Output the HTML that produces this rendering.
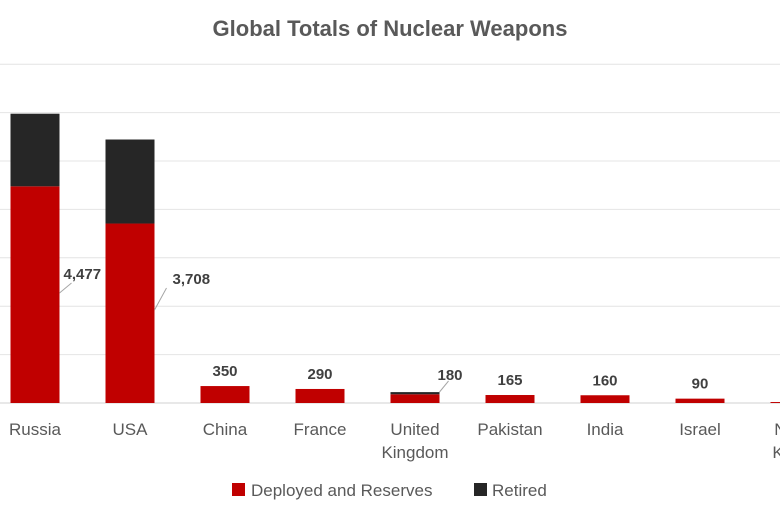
<!DOCTYPE html>
<html><head><meta charset="utf-8"><style>
body{margin:0;background:#fff;width:780px;height:516px;overflow:hidden;font-family:"Liberation Sans",sans-serif}
</style></head><body>
<svg id="chart" width="780" height="516" xmlns="http://www.w3.org/2000/svg">
<text x="390" y="36" text-anchor="middle" font-size="22" font-weight="bold" fill="#595959">Global Totals of Nuclear Weapons</text>
<g id="grid"></g><g id="bars"></g><g id="labels"></g>
<g>
<rect x="232" y="483" width="13" height="13" fill="#c00000"/>
<text x="251" y="496" font-size="17" fill="#595959">Deployed and Reserves</text>
<rect x="474" y="483" width="13" height="13" fill="#262626"/>
<text x="492" y="496" font-size="17" fill="#595959">Retired</text>
</g>
</svg>
<script>
const categories=["Russia","USA","China","France","United Kingdom","Pakistan","India","Israel","North Korea"];
const deployed=[4477,3708,350,290,180,165,160,90,20];
const retired=[1500,1736,0,0,45,0,0,0,0];
const valueLabels=["4,477","3,708","350","290","180","165","160","90",""];
const yTicks=[0,1000,2000,3000,4000,5000,6000,7000];
const NS="http://www.w3.org/2000/svg";
const base=403,pxPer=48.4/1000;
const y=v=>base-v*pxPer;
const xc=i=>35+i*95;
const bw=49;
function mk(t,a,p){const e=document.createElementNS(NS,t);for(const k in a)e.setAttribute(k,a[k]);p.appendChild(e);return e;}
const g=document.getElementById('grid'),b=document.getElementById('bars'),l=document.getElementById('labels');
yTicks.forEach(t=>{const e=mk('line',{x1:0,x2:780,y1:y(t),y2:y(t),stroke:t===0?'#d0d0d0':'#e4e4e4','stroke-width':1},g);

});
categories.forEach((c,i)=>{
 const r=mk('rect',{x:xc(i)-bw/2,y:y(deployed[i]),width:bw,height:deployed[i]*pxPer,fill:'#c00000'},b);
 
 
 if(retired[i]>0){const k=mk('rect',{x:xc(i)-bw/2,y:y(deployed[i]+retired[i]),width:bw,height:retired[i]*pxPer,fill:'#262626'},b);
 
 }
 const words=c==="United Kingdom"?["United","Kingdom"]:c==="North Korea"?["North","Korea"]:[c];
 words.forEach((w,j)=>{const t=mk('text',{x:xc(i),y:435+j*23,'text-anchor':'middle','font-size':17,fill:'#595959'},l);t.textContent=w;
 
 });
 if(valueLabels[i]){
  let tx=xc(i),ty=y(deployed[i]+retired[i])-10,anchor='middle';
  if(i<2){tx=xc(i)+bw/2+4+i*14;ty=i===0?279:284;anchor='start';
   const ln=mk('line',{x1:xc(i)+bw/2,y1:i===0?293:310,x2:tx+(i===0?8:-6),y2:ty+4,stroke:'#a6a6a6'},l);
   
   }
  if(i===4){tx=xc(i)+35;ty=380;
   const ln=mk('line',{x1:xc(i)+bw/2,y1:392,x2:xc(i)+bw/2+9,y2:381,stroke:'#a6a6a6'},l);
   
   }
  const t=mk('text',{x:tx,y:ty,'text-anchor':anchor,'font-size':15,'font-weight':'bold',fill:'#404040'},l);t.textContent=valueLabels[i];
  
  
 }
});
</script>
</body></html>
